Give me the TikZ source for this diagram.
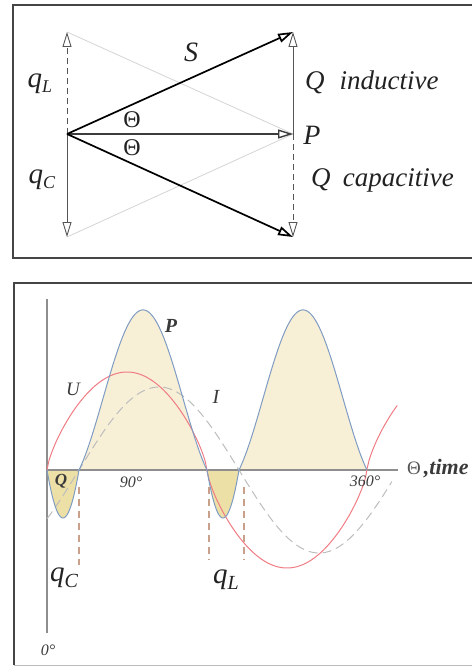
\documentclass[tikz,border=0pt]{standalone}
\usepackage{fontspec}
\setmainfont{Liberation Serif}
\usetikzlibrary{arrows.meta}
\definecolor{framedark}{HTML}{454545}
\definecolor{framelight}{HTML}{BBBBBB}
\definecolor{vecgray}{HTML}{555555}
\definecolor{faintgray}{HTML}{D4D4D4}
\definecolor{axisgray}{HTML}{8E8E8E}
\definecolor{pblue}{HTML}{7F9CC2}
\definecolor{beige}{HTML}{F7EFD6}
\definecolor{darkbeige}{HTML}{EDE0A6}
\definecolor{ured}{HTML}{F07C84}
\definecolor{igray}{HTML}{BDBDBD}
\definecolor{brownd}{HTML}{C9A08A}
\definecolor{txt}{HTML}{222222}
\definecolor{txtg}{HTML}{3A3A3A}
\tikzset{
  opentip/.style={-{Triangle[open,length=15pt,width=9pt]}},
  gvec/.style={opentip,draw=vecgray,line width=0.9pt},
  bvec/.style={opentip,draw=black,line width=1.7pt},
  faintline/.style={draw=faintgray,line width=0.8pt},
  vdash/.style={dash pattern=on 6pt off 4pt},
  lbl/.style={inner sep=0pt,text=txt},
  brownline/.style={draw=brownd,line width=1.6pt,dash pattern=on 7pt off 5pt},
}
\begin{document}
\begin{tikzpicture}[x=1pt,y=-1pt]
\useasboundingbox (0,0) rectangle (471,666);
% frames
\draw[framedark,line width=1.6pt] (472,5) -- (13,5) -- (13,258) -- (472,258);
\draw[framedark,line width=1.6pt] (472,283) -- (14,283) -- (14,665);
\draw[framelight,line width=1pt] (14,665) -- (472,665);

% ---------- phasor diagram ----------
\coordinate (O) at (67,134);
\coordinate (T) at (293,32);
\coordinate (B) at (293,237);
\coordinate (Pt) at (293,134);
\coordinate (QLt) at (67,32);
\coordinate (QCt) at (67,237);

\draw[faintline] (QLt) -- (Pt);
\draw[faintline] (QCt) -- (Pt);
\draw[gvec,vdash] (O) -- (QLt);
\draw[gvec] (O) -- (QCt);
\draw[gvec] (Pt) -- (T);
\draw[gvec,vdash] (Pt) -- (B);
\draw[bvec,line width=1.4pt,draw=vecgray!70!black] (O) -- (Pt);
\draw[bvec] (O) -- (T);
\draw[bvec] (O) -- (B);

\node[lbl,font=\fontsize{28}{30}\selectfont\itshape] (lS) at (191,52) {S};
\node[lbl,font=\fontsize{29}{30}\selectfont\itshape] (lqL) at (40,84) {q\raisebox{-0.35ex}{\fontsize{18}{18}\selectfont L}};
\node[lbl,font=\fontsize{29}{30}\selectfont\itshape] (lqC) at (42,180) {q\raisebox{-0.35ex}{\fontsize{18}{18}\selectfont C}};
\node[lbl,font=\fontsize{24}{26}\selectfont] (lth1) at (132,120) {Θ};
\node[lbl,font=\fontsize{24}{26}\selectfont] (lth2) at (132,148) {Θ};
\node[lbl,font=\fontsize{28}{30}\selectfont\itshape] (lP) at (312,135) {P};
\node[lbl,font=\fontsize{27}{30}\selectfont\itshape,anchor=west] (lQi) at (305,82) {Q\hspace{0.55em}inductive};
\node[lbl,font=\fontsize{27}{30}\selectfont\itshape,anchor=west] (lQc) at (311,180) {Q\hspace{0.45em}capacitive};

% ---------- waveform diagram ----------
\coordinate (A0) at (47,470);
\coordinate (Ytop) at (47,299);
\coordinate (Ybot) at (47,633);
\coordinate (Xend) at (398,470);

% P fills
\fill[beige] (A0) -- plot[domain=0:360,samples=241,variable=\t]
  ({47+0.8889*\t},{470-177*max(sin(\t)*sin(\t-36),0)-503*min(sin(\t)*sin(\t-36),0)}) -- cycle;
\fill[darkbeige] plot[domain=0:36,samples=40,variable=\t]
  ({47+0.8889*\t},{470-503*min(sin(\t)*sin(\t-36),0)}) -- cycle;
\fill[darkbeige] plot[domain=180:216,samples=40,variable=\t]
  ({47+0.8889*\t},{470-503*min(sin(\t)*sin(\t-36),0)}) -- cycle;

% axes
\draw[axisgray,line width=1.5pt] (Ytop) -- (Ybot);
\draw[axisgray,line width=1.5pt] (A0) -- (Xend);

% I dashed
\draw[igray,line width=1pt,dash pattern=on 9pt off 5pt] plot[domain=0:388,samples=200,variable=\t]
  ({47+0.8889*\t},{470-83*sin(\t-36)});
% U red
\draw[ured,line width=1pt] plot[domain=0:394,samples=200,variable=\t]
  ({47+0.8889*\t},{470-98*sin(\t)*pow(abs(sin(\t))+0.0001,-0.28)});
% P curve
\draw[pblue,line width=1pt] plot[domain=0:360,samples=241,variable=\t]
  ({47+0.8889*\t},{470-177*max(sin(\t)*sin(\t-36),0)-503*min(sin(\t)*sin(\t-36),0)});

% brown dashed markers
\coordinate (d1a) at (79,487);  \coordinate (d1b) at (79,565);
\coordinate (d2a) at (209,487); \coordinate (d2b) at (209,560);
\coordinate (d3a) at (244,487); \coordinate (d3b) at (244,560);
\draw[brownline] (d1a) -- (d1b);
\draw[brownline] (d2a) -- (d2b);
\draw[brownline] (d3a) -- (d3b);

% labels
\node[lbl,font=\fontsize{20}{22}\selectfont\bfseries\itshape,text=txtg] (wP) at (171,326) {P};
\node[lbl,font=\fontsize{19}{21}\selectfont\itshape,text=txtg] (wU) at (73,389) {U};
\node[lbl,font=\fontsize{20}{22}\selectfont\itshape,text=txtg] (wI) at (216,397) {I};
\node[lbl,font=\fontsize{17}{19}\selectfont\bfseries\itshape,text=txtg] (wQ) at (61,481) {Q};
\node[lbl,font=\fontsize{16}{18}\selectfont\itshape,text=txtg] (w90) at (131,482) {90°};
\node[lbl,font=\fontsize{16}{18}\selectfont\itshape,text=txtg] (w360) at (365,481) {360°};
\node[lbl,font=\fontsize{16}{18}\selectfont\itshape,text=txtg] (w0) at (48,650) {0°};
\node[lbl,anchor=west] (wth) at (407,469) {\fontsize{19}{20}\selectfont\textcolor{vecgray}{Θ}\hspace{3pt}{\fontsize{22}{24}\selectfont\bfseries\itshape\color{txtg},time}};
\node[lbl,font=\fontsize{29}{30}\selectfont\itshape] (wqC) at (64,578) {q\raisebox{-0.45ex}{\fontsize{20}{20}\selectfont C}};
\node[lbl,font=\fontsize{29}{30}\selectfont\itshape] (wqL) at (226,580) {q\raisebox{-0.45ex}{\fontsize{20}{20}\selectfont L}};
\end{tikzpicture}
\end{document}
